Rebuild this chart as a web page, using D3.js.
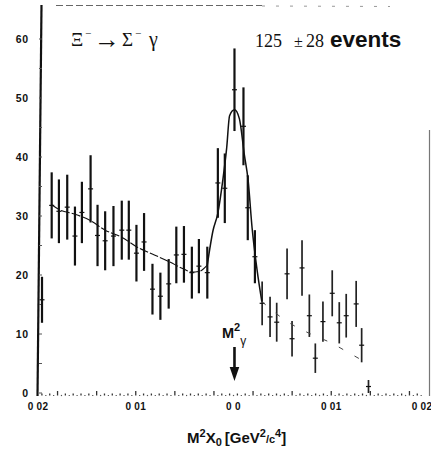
<!DOCTYPE html>
<html>
<head>
<meta charset="utf-8">
<script src="https://cdn.jsdelivr.net/npm/d3@7"></script>
<style>
  html, body { margin: 0; padding: 0; background: #fff; }
  svg { display: block; }
  .sans { font-family: "Liberation Sans", Arial, sans-serif; font-weight: bold; }
  .serif { font-family: "Liberation Serif", "DejaVu Serif", serif; }
</style>
</head>
<body>
<svg id="chart" width="431" height="453"></svg>
<script>
// Missing-mass squared spectrum: bin centres (GeV^2/c^4), counts and errors
const binCenters = [
  -0.01959, -0.01860, -0.01786, -0.01701, -0.01622, -0.01551, -0.01462, -0.01391,
  -0.01313, -0.01228, -0.01143, -0.01071, -0.00993, -0.00915, -0.00829, -0.00748,
  -0.00663, -0.00585, -0.00507, -0.00426, -0.00354, -0.00268, -0.00160, -0.00089,
   0.00010,  0.00102,  0.00146,  0.00219,  0.00293,  0.00374,  0.00442,  0.00548,
   0.00599,  0.00701,  0.00776,  0.00837,  0.00915,  0.01010,  0.01082,  0.01153,
   0.01255,  0.01311,  0.01381
];
const counts = [
  15.8, 31.8, 30.8, 31.5, 26.6, 30.6, 34.6, 26.7,
  25.8, 26.6, 27.6, 27.6, 23.7, 25.6, 17.6, 16.4,
  18.5, 23.4, 23.5, 20.4, 21.5, 20.4, 35.6, 34.7,
  51.4, 45.2, 31.4, 23.1, 15.2, 12.9, 12.0, 20.2,
   9.2, 21.2, 13.1,  5.9, 12.1, 16.9, 11.9, 13.1,
  15.1,  8.1,  1.1
];
const errors = [
  3.9, 5.6, 5.4, 5.5, 5.0, 5.2, 5.7, 5.2,
  5.0, 5.1, 5.0, 5.0, 4.8, 4.9, 4.3, 4.0,
  4.2, 4.8, 4.8, 4.4, 4.6, 4.4, 5.9, 5.9,
  7.0, 6.6, 5.5, 4.5, 3.7, 3.4, 3.3, 4.3,
  3.0, 4.7, 3.6, 2.5, 3.4, 3.9, 3.5, 3.7,
  3.9, 2.9, 1.1
];

// Fitted curve: background below the peak, the peak itself, and the dashed tail
const bgX = [-0.0186, -0.01786, -0.01622, -0.01462, -0.01313, -0.01143, -0.00993,
             -0.00837, -0.00663, -0.00507, -0.00426, -0.00354, -0.00268];
const bgY = [31.9, 31.1, 30.3, 29.2, 27.6, 26.4, 24.8, 23.6, 22.3, 21.0, 20.5, 20.6, 21.7];
const peakX = [-0.00268, -0.0021, -0.0016, -0.0011, -0.0007, -0.0004, 0.0001,
               0.0006, 0.0011, 0.0015, 0.0019, 0.0024, 0.0029];
const peakY = [21.7, 27.5, 30.5, 36.0, 41.5, 47.0, 48.0, 46.5, 40.5, 36.0, 28.0, 21.0, 15.5];
const tailX = [0.0029, 0.0055, 0.0079, 0.0101, 0.0116, 0.0131];
const tailY = [15.5, 12.1, 10.0, 8.4, 7.0, 5.6];

// Axis ticks
const yTicks = [0, 10, 20, 30, 40, 50, 60];
const xTicks = [-0.02, -0.01, 0.0, 0.01, 0.02];
const xTickLabels = ["0 02", "0 01", "0 0", "0 01", "0 02"];

const svg = d3.select("#chart");
const x = d3.scaleLinear().domain([-0.02, 0.02]).range([38, 429]);
const y = d3.scaleLinear().domain([0, 60]).range([393, 39]);
const ink = "#111";

// Frame: heavy left axis, faint top and right edges
svg.append("line").attr("x1", 41.5).attr("y1", 5).attr("x2", 37.5).attr("y2", 396)
  .attr("stroke", ink).attr("stroke-width", 2.2);
svg.append("line").attr("x1", 56).attr("y1", 5.5).attr("x2", 262).attr("y2", 5.5)
  .attr("stroke", "#666").attr("stroke-width", 1.2).attr("stroke-dasharray", "7,3");
svg.append("line").attr("x1", 262).attr("y1", 6).attr("x2", 390).attr("y2", 6.5)
  .attr("stroke", "#999").attr("stroke-width", 1).attr("stroke-dasharray", "3,11");
svg.append("line").attr("x1", 429.5).attr("y1", 130).attr("x2", 429.5).attr("y2", 396)
  .attr("stroke", "#777").attr("stroke-width", 1.2);

// Y axis ticks and labels
const yMinor = d3.range(0, 65, 5);
svg.append("g").selectAll("line").data(yMinor).join("line")
  .attr("x1", 39).attr("x2", 42).attr("y1", d => y(d)).attr("y2", d => y(d))
  .attr("stroke", "#555").attr("stroke-width", 1);
svg.append("g").selectAll("text").data(yTicks).join("text")
  .attr("class", "sans")
  .attr("x", 29).attr("y", d => y(d) + 4)
  .attr("text-anchor", "end").attr("font-size", 10.5).attr("letter-spacing", 0.8)
  .attr("fill", ink).text(d => d);

// Bottom axis: dotted baseline with small ticks
const xDots = d3.range(-0.0196, 0.0196, 0.0008);
svg.append("g").selectAll("line").data(xDots).join("line")
  .attr("x1", d => x(d)).attr("x2", d => x(d))
  .attr("y1", 395.5).attr("y2", (d, i) => i % 5 === 2 ? 391 : 393.5)
  .attr("stroke", "#333").attr("stroke-width", 1.3);
svg.append("g").selectAll("line").data(d3.range(-0.0192, 0.0196, 0.0008)).join("line")
  .attr("x1", d => x(d) - 0.6).attr("x2", d => x(d) + 0.6)
  .attr("y1", 395.5).attr("y2", 395.5)
  .attr("stroke", "#555").attr("stroke-width", 1.2);
svg.append("g").selectAll("text").data(xTicks).join("text")
  .attr("class", "sans")
  .attr("x", (d, i) => x(d) + (i === 4 ? -7 : 0)).attr("y", 410)
  .attr("text-anchor", "middle").attr("font-size", 10).attr("letter-spacing", 0.3)
  .attr("fill", ink).text((d, i) => xTickLabels[i]);

// Data points with error bars
const pts = binCenters.map((c, i) => ({ c, n: counts[i], e: errors[i] }));
const g = svg.append("g");
g.selectAll("line.err").data(pts).join("line").attr("class", "err")
  .attr("x1", d => x(d.c)).attr("x2", d => x(d.c))
  .attr("y1", d => y(d.n + d.e)).attr("y2", d => y(Math.max(0, d.n - d.e)))
  .attr("stroke", (d, i) => i > 27 ? "#222" : ink)
  .attr("stroke-width", (d, i) => i > 27 ? 1.7 : 2.2);
g.selectAll("line.val").data(pts).join("line").attr("class", "val")
  .attr("x1", d => x(d.c) - 2.5).attr("x2", d => x(d.c) + 2.5)
  .attr("y1", d => y(d.n)).attr("y2", d => y(d.n))
  .attr("stroke", ink).attr("stroke-width", 1.2);

// Fit curve
const line = d3.line().x(d => x(d[0])).y(d => y(d[1])).curve(d3.curveMonotoneX);
svg.append("path").datum(bgX.map((v, i) => [v, bgY[i]]))
  .attr("d", line).attr("fill", "none").attr("stroke", ink)
  .attr("stroke-width", 1.1).attr("stroke-dasharray", "9,2");
svg.append("path").datum(peakX.map((v, i) => [v, peakY[i]]))
  .attr("d", line).attr("fill", "none").attr("stroke", ink).attr("stroke-width", 1.5);
svg.append("path").datum(tailX.map((v, i) => [v, tailY[i]]))
  .attr("d", line).attr("fill", "none").attr("stroke", "#444")
  .attr("stroke-width", 1).attr("stroke-dasharray", "5,13");

// Reaction label
const t = svg.append("g").attr("class", "serif").attr("fill", ink);
t.append("text").attr("x", 71).attr("y", 46).attr("font-size", 19).text("Ξ");
t.append("text").attr("x", 85).attr("y", 37).attr("font-size", 11).text("−");
t.append("text").attr("x", 94).attr("y", 48).attr("font-size", 26).text("→");
t.append("text").attr("x", 122).attr("y", 46).attr("font-size", 19).text("Σ");
t.append("text").attr("x", 135).attr("y", 37).attr("font-size", 11).text("−");
t.append("text").attr("x", 149).attr("y", 46).attr("font-size", 20).text("γ");

// Signal yield
t.append("text").attr("x", 255).attr("y", 47).attr("font-size", 18).text("125");
t.append("text").attr("x", 294).attr("y", 47).attr("font-size", 16).text("±");
t.append("text").attr("x", 306).attr("y", 47).attr("font-size", 18).text("28");
svg.append("text").attr("class", "sans").attr("x", 330).attr("y", 47)
  .attr("font-size", 22.5).attr("fill", ink).text("events");

// Photon mass-squared marker
const ax = x(0.0001);
svg.append("line").attr("x1", ax).attr("x2", ax).attr("y1", 347).attr("y2", 371)
  .attr("stroke", ink).attr("stroke-width", 2.6);
svg.append("path")
  .attr("d", `M${ax - 4.8},367 L${ax + 4.8},367 L${ax},381 Z`).attr("fill", ink);
const ml = svg.append("text").attr("class", "sans").attr("x", 222).attr("y", 338)
  .attr("font-size", 14.5).attr("fill", ink);
ml.append("tspan").text("M");
ml.append("tspan").attr("dy", -7).attr("font-size", 11).text("2");
ml.append("tspan").attr("dy", 14).attr("dx", 0).attr("font-size", 12).attr("font-weight", "normal").text("γ");

// X axis title
const xt = svg.append("text").attr("class", "sans").attr("x", 187).attr("y", 443)
  .attr("font-size", 15).attr("fill", ink);
xt.append("tspan").text("M");
xt.append("tspan").attr("dy", -6).attr("font-size", 11).text("2");
xt.append("tspan").attr("dy", 6).text("X");
xt.append("tspan").attr("dy", 3).attr("font-size", 11).text("0");
xt.append("tspan").attr("dy", -3).attr("dx", 3).text("[GeV");
xt.append("tspan").attr("dy", -6).attr("font-size", 11).text("2");
xt.append("tspan").attr("dy", 6).attr("font-size", 11).text("/c");
xt.append("tspan").attr("dy", -6).attr("font-size", 11).text("4");
xt.append("tspan").attr("dy", 6).text("]");
</script>
</body>
</html>
